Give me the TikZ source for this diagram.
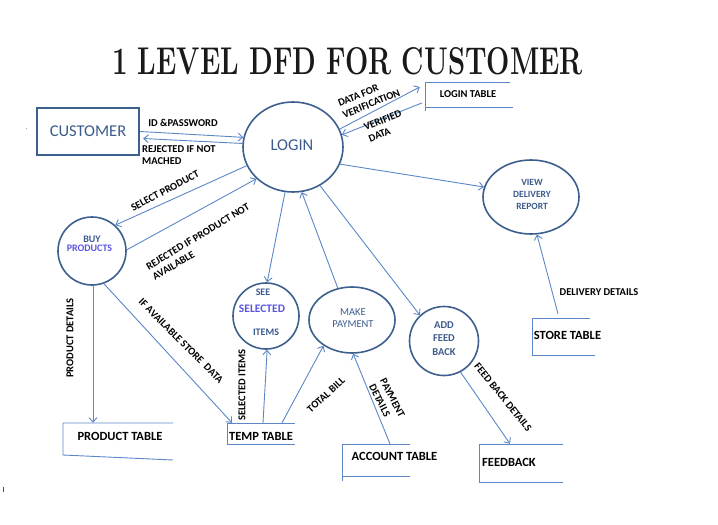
\documentclass[tikz,border=0pt]{standalone}
\usepackage{fontspec}
\newfontfamily\calibfont{Carlito}
\usetikzlibrary{shapes.geometric,arrows.meta}
\definecolor{arrowblue}{HTML}{5B87C8}
\definecolor{ringblue}{HTML}{3C5F8E}
\definecolor{textblue}{HTML}{3B5B8C}
\definecolor{lightviolet}{HTML}{5A55E0}
\begin{document}
\begin{tikzpicture}[x=1pt,y=-1pt,
  proc/.style={draw=ringblue, line width=1.6pt, circle, inner sep=0pt},
  ellproc/.style={draw=ringblue, line width=1.6pt, ellipse, inner sep=0pt},
  intext/.style={text=textblue, font=\calibfont\bfseries\fontsize{10}{12}\selectfont, align=center, inner sep=0pt},
  flow/.style={draw=arrowblue, line width=0.9pt, -{Straight Barb[length=4.5pt,width=8pt]}},
  lbl/.style={font=\calibfont\bfseries\fontsize{10.5}{12.5}\selectfont, inner sep=0pt, align=left},
  storeline/.style={draw=arrowblue, line width=0.9pt},
  storebox/.style={rectangle, inner sep=0pt},
  storetxt/.style={font=\calibfont\bfseries\fontsize{12.5}{14}\selectfont, inner sep=0pt}
]
\useasboundingbox (0,0) rectangle (718,525);

% title
\node[inner sep=0pt, font=\rmfamily\bfseries\fontsize{39}{39}\selectfont, text=black!90] (title) at (347.5,61.5) {\resizebox{471pt}{27pt}{1 LEVEL DFD FOR CUSTOMER}};

% external entity
\node[draw=ringblue, line width=2.4pt, minimum width=102pt, minimum height=47pt, inner sep=0pt,
      text=textblue, font=\calibfont\fontsize{16.5}{18}\selectfont] (cust) at (88,131.5) {CUSTOMER};

% processes
\node[ellproc, minimum width=100pt, minimum height=90pt] (login) at (293,147) {};
\node[text=textblue, font=\calibfont\fontsize{16.5}{18}\selectfont, inner sep=0pt] (logintxt) at (292,145) {LOGIN};

\node[ellproc, minimum width=96pt, minimum height=74pt] (view) at (531,197) {};
\node[intext, font=\calibfont\bfseries\fontsize{9.5}{12}\selectfont] (viewtxt) at (532,194) {VIEW\\DELIVERY\\REPORT};

\node[proc, minimum size=68pt] (buy) at (92,251) {};
\node[intext] (buytxt1) at (92,239) {BUY};
\node[intext, text=lightviolet] (buytxt2) at (89.5,248.5) {PRODUCTS};

\node[proc, minimum size=66pt] (see) at (266,316) {};
\node[intext] (seetxt1) at (263,292) {SEE};
\node[intext, text=lightviolet, font=\calibfont\bfseries\fontsize{11.5}{12}\selectfont] (seetxt2) at (262,308.5) {SELECTED};
\node[intext] (seetxt3) at (266,332) {ITEMS};

\node[ellproc, minimum width=86pt, minimum height=66pt] (mp) at (352,320) {};
\node[intext, font=\calibfont\fontsize{10.5}{12.5}\selectfont] (mptxt) at (353,318) {MAKE\\PAYMENT};

\node[proc, minimum size=69pt] (add) at (444,341) {};
\node[intext, font=\calibfont\bfseries\fontsize{10.5}{13.5}\selectfont] (addtxt) at (444,338.5) {ADD\\FEED\\BACK};

% data stores (invisible frames + lines + text)
\node[storebox, minimum width=88pt, minimum height=25pt] (logintab) at (469,94.5) {};
\draw[storeline] (425,82) -- (510,82) (425,82) -- (425,111) (425,107) -- (513,107);
\node[lbl] (logintabtxt) at (468,94) {LOGIN TABLE};

\node[storebox, minimum width=110pt, minimum height=32pt] (prodtab) at (118,439) {};
\draw[storeline] (63,423) -- (173,423) (63,423) -- (63,455) -- (173,460);
\node[storetxt] (prodtabtxt) at (120,436) {PRODUCT TABLE};

\node[storebox, minimum width=68pt, minimum height=21pt] (temptab) at (261,433.5) {};
\draw[storeline] (295,423) -- (227,423) -- (227,444) -- (295,444);
\node[storetxt] (temptabtxt) at (261,436) {TEMP TABLE};

\node[storebox, minimum width=68pt, minimum height=32pt] (accttab) at (376,460) {};
\draw[storeline] (410,444) -- (342,444) -- (342,481) (342,476) -- (410,476);
\node[storetxt] (accttabtxt) at (394.5,456) {ACCOUNT TABLE};

\node[storebox, minimum width=84pt, minimum height=38pt] (feedtab) at (521,463) {};
\draw[storeline] (563,444) -- (479,444) -- (479,482) -- (563,482);
\node[storetxt] (feedtabtxt) at (509,462) {FEEDBACK};

\node[storebox, minimum width=58pt, minimum height=37pt] (storetab) at (561,336.5) {};
\draw[storeline] (590,318) -- (532,318) -- (532,355) -- (595,355);
\node[storetxt] (storetabtxt) at (567.5,335) {STORE TABLE};

% flows
\draw[flow] (cust.east) -- (login.169);
\draw[flow] (login.176) -- ([xshift=3pt,yshift=-7pt]cust.east);
\draw[flow] (login.21) -- ([xshift=-5pt,yshift=7.5pt]logintab.west);
\draw[flow] ([xshift=-3pt,yshift=-8.5pt]logintab.west) -- (login.14);
\draw[flow] (login.-20) -- (view.168);
\draw[flow] (login.202) -- (buy.48);
\draw[flow] (buy.2) -- (login.221);
\draw[flow] (login.260) -- (see.88);
\draw[flow] (mp.114) -- (login.281);
\draw[flow] (login.305) -- (add.133);
\draw[flow] ([xshift=1pt]buy.south) -- ([xshift=-25pt]prodtab.north);
\draw[flow] (buy.290) -- ([xshift=-29pt]temptab.north);
\draw[flow] ([xshift=2pt]temptab.north) -- (see.272);
\draw[flow] ([xshift=21pt]temptab.north) -- (mp.222);
\draw[flow] ([xshift=14pt]accttab.north) -- (mp.272);
\draw[flow] (add.298) -- ([xshift=-11pt]feedtab.north);
\draw[flow] ([xshift=-3pt,yshift=4pt]storetab.north) -- (view.279);

% flow labels
\node[lbl] (l1) at (183,123) {ID \&PASSWORD};
\node[lbl, anchor=north west] (l2) at (142,145) {REJECTED IF NOT\\MACHED};
\node[lbl, rotate=22] (l3) at (369,98) {DATA FOR\\VERIFICATION};
\node[lbl, rotate=22] (l4) at (385,126) {VERIFIED\\DATA};
\node[lbl, rotate=28] (l5) at (165,191) {SELECT PRODUCT};
\node[lbl, rotate=31] (l6) at (201,242) {REJECTED IF PRODUCT NOT\\AVAILABLE};
\node[lbl, rotate=90] (l7) at (70,338) {PRODUCT DETAILS};
\node[lbl, rotate=-45] (l8) at (181,341) {IF AVAILABLE STORE\ \ DATA};
\node[lbl, rotate=90] (l9) at (242,385) {SELECTED ITEMS};
\node[lbl, rotate=42] (l10) at (326,395) {TOTAL BILL};
\node[lbl, rotate=-63] (l11) at (387,401) {PAYMENT\\DETAILS};
\node[lbl, rotate=-51] (l12) at (503,397) {FEED BACK DETAILS};
\node[lbl] (l13) at (599,292) {DELIVERY DETAILS};

% small stray marks
\fill[gray!70] (25.5,127.5) rectangle (26.5,128.5);
\fill[black!70] (3,487) rectangle (4.2,492);
\end{tikzpicture}
\end{document}
